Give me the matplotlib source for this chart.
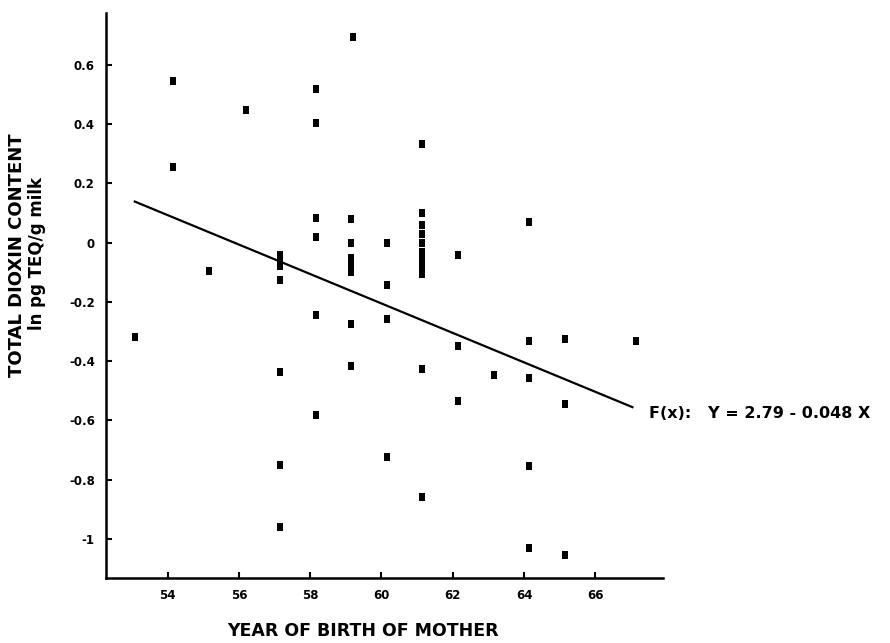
import matplotlib
matplotlib.use("Agg")
import matplotlib.pyplot as plt

# scatter values
years = [53.1,
         54.15, 54.15,
         55.15,
         56.2,
         57.15, 57.15, 57.15, 57.15, 57.15, 57.15, 57.15,
         58.15, 58.15, 58.15, 58.15, 58.15, 58.15,
         59.2, 59.15, 59.15, 59.15, 59.15, 59.15, 59.15, 59.15,
         60.15, 60.15, 60.15, 60.15,
         61.15, 61.15, 61.15, 61.15, 61.15, 61.15, 61.15, 61.15, 61.15, 61.15, 61.15,
         62.15, 62.15, 62.15,
         63.15,
         64.15, 64.15, 64.15, 64.15, 64.15,
         65.15, 65.15, 65.15,
         67.15]
dioxin = [-0.318,
          0.546, 0.254,
          -0.094,
          0.448,
          -0.04, -0.06, -0.08, -0.125, -0.436, -0.75, -0.96,
          0.52, 0.405, 0.085, 0.02, -0.244, -0.583,
          0.695, 0.08, 0.0, -0.05, -0.075, -0.1, -0.275, -0.416,
          0.0, -0.142, -0.258, -0.722,
          0.334, 0.10, 0.06, 0.03, 0.0, -0.03, -0.055, -0.08, -0.105, -0.425, -0.86,
          -0.04, -0.349, -0.535,
          -0.448,
          0.07, -0.332, -0.457, -0.755, -1.03,
          -0.326, -0.546, -1.055,
          -0.332]

# regression line end points
fit_x = [53.08, 67.04]
fit_y = [0.139, -0.555]
fit_label = "F(x):   Y = 2.79 - 0.048 X"

x_ticks = [54, 56, 58, 60, 62, 64, 66]
y_ticks = [0.6, 0.4, 0.2, 0, -0.2, -0.4, -0.6, -0.8, -1]
y_tick_labels = ["0.6", "0.4", "0.2", "0", "-0.2", "-0.4", "-0.6", "-0.8", "-1"]

fig = plt.figure(figsize=(8.9, 6.43), dpi=100)
ax = fig.add_axes([0.119, 0.101, 0.626, 0.879])

# tall narrow blobs like the scanned dots
dot = [(-0.33, -0.5), (0.33, -0.5), (0.33, 0.5), (-0.33, 0.5), (-0.33, -0.5)]
ax.plot(years, dioxin, linestyle="none", marker=dot, markersize=6,
        color="black", markeredgewidth=0)
ax.plot(fit_x, fit_y, color="black", linewidth=1.6)
ax.text(67.5, -0.576, fit_label, fontsize=11.5, fontweight="bold",
        va="center", ha="left", clip_on=False)

ax.set_xlim(52.27, 67.9)
ax.set_ylim(-1.132, 0.776)

ax.set_xticks(x_ticks)
ax.set_xticklabels([str(t) for t in x_ticks], fontsize=8.5, fontweight="bold")
ax.set_yticks(y_ticks)
ax.set_yticklabels(y_tick_labels, fontsize=8.5, fontweight="bold")
ax.tick_params(direction="in", length=4, width=1.5, pad=8)

for side in ["top", "right"]:
    ax.spines[side].set_visible(False)
for side in ["left", "bottom"]:
    ax.spines[side].set_linewidth(1.8)

fig.text(363 / 890, 1 - 631 / 643, "YEAR OF BIRTH OF MOTHER", ha="center",
         va="center", fontsize=12.5, fontweight="bold")
fig.text(17 / 890, 1 - 255 / 643, "TOTAL DIOXIN CONTENT", ha="center",
         va="center", rotation=90, fontsize=13, fontweight="bold")
fig.text(37 / 890, 1 - 254 / 643, "ln pg TEQ/g milk", ha="center",
         va="center", rotation=90, fontsize=12, fontweight="bold")

fig.savefig("out.png", dpi=100)
